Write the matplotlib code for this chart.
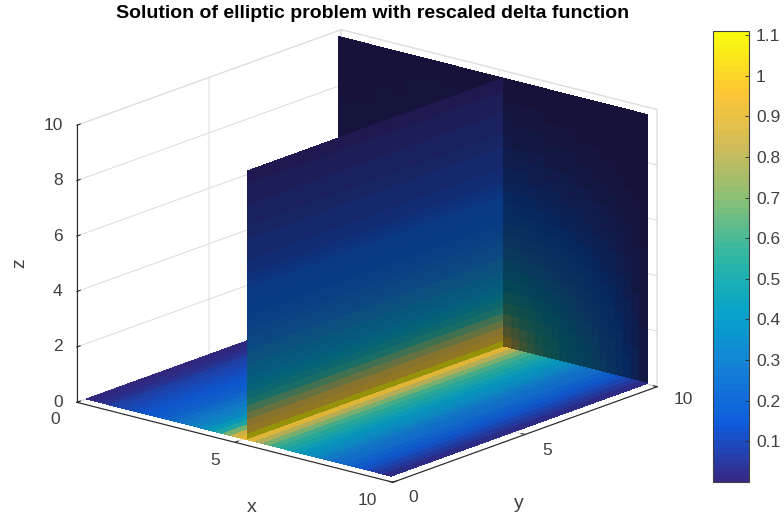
import numpy as np
import matplotlib
matplotlib.use('Agg')
import matplotlib.pyplot as plt
from matplotlib.colors import LinearSegmentedColormap, Normalize
from matplotlib.cm import ScalarMappable
from mpl_toolkits.mplot3d import proj3d

plt.rcParams['font.family'] = ['Liberation Sans', 'DejaVu Sans']

W, H = 784, 519

# parula anchors
parula_hex = ['#352a87', '#0f5cdd', '#1481d6', '#06a4ca', '#2eb7a4',
              '#87bf77', '#d1bb59', '#fec832', '#f9fb0e']
clim = (0.0, 1.11)
cbar_ticks = [0.1, 0.2, 0.3, 0.4, 0.5, 0.6, 0.7, 0.8, 0.9, 1.0, 1.1]
cbar_labels = ['0.1', '0.2', '0.3', '0.4', '0.5', '0.6', '0.7', '0.8', '0.9', '1', '1.1']
x_ticks = [0, 5, 10]
y_ticks = [0, 5, 10]
z_ticks = [0, 2, 4, 6, 8, 10]

# floor z=0, value per strip across x
floor_left = [.01, .03, .05, .07, .09, .11, .13, .15, .17, .19, .22, .25, .28, .32,
              .36, .42, .52, .68, .88, .94]
floor_right = [.93, .80, .68, .60, .54, .49, .45, .41, .37, .33, .29, .26, .23, .20,
               .17, .135, .10, .06, .02]

# slice x=5, value per strip up z
slice_z = [1.09, .93, .87, .76, .65, .55, .48, .43, .39, .36, .33, .30, .28, .25, .23,
           .21, .195, .18, .17, .16, .15, .14, .125, .115, .10, .09, .085, .08, .07,
           .06, .055, .05, .04, .035, .03, .025, .02, .015, .01]

# back slice y=10, right of x=5: rows go up z, columns go along x
back_right = [
    [.95, .80, .70, .63, .58, .53, .49, .45, .41, .38, .34, .30, .27, .23, .19, .15, .10, .05],
    [.78, .71, .65, .60, .55, .51, .47, .43, .40, .36, .33, .29, .26, .22, .18, .14, .09, .05],
    [.66, .62, .58, .55, .51, .47, .44, .41, .37, .34, .31, .27, .24, .21, .17, .13, .09, .04],
    [.58, .55, .52, .49, .46, .43, .40, .37, .34, .31, .28, .25, .22, .19, .16, .12, .08, .04],
    [.50, .48, .46, .44, .41, .39, .36, .34, .31, .29, .26, .23, .20, .17, .14, .11, .075, .035],
    [.43, .42, .40, .38, .36, .34, .32, .30, .28, .26, .23, .21, .18, .16, .13, .10, .07, .03],
    [.38, .37, .35, .34, .32, .30, .29, .27, .25, .23, .21, .19, .165, .14, .12, .09, .06, .03],
    [.33, .32, .31, .30, .28, .27, .25, .24, .22, .21, .19, .17, .15, .13, .105, .08, .055, .03],
    [.29, .28, .27, .26, .25, .24, .22, .21, .195, .18, .165, .15, .13, .115, .095, .075, .05, .025],
    [.25, .245, .235, .23, .22, .21, .195, .185, .175, .16, .145, .13, .115, .10, .085, .065, .045, .02],
    [.22, .215, .21, .20, .19, .18, .17, .16, .15, .14, .13, .115, .10, .09, .075, .06, .04, .02],
    [.19, .185, .18, .17, .165, .155, .15, .14, .13, .12, .11, .10, .09, .08, .065, .05, .035, .02],
    [.16, .155, .15, .145, .14, .135, .125, .12, .11, .10, .095, .085, .075, .065, .055, .045, .03, .015],
    [.14, .135, .13, .125, .12, .115, .11, .10, .095, .09, .08, .075, .065, .055, .05, .04, .025, .015],
    [.12, .115, .11, .105, .10, .095, .09, .085, .08, .075, .07, .06, .055, .05, .04, .03, .02, .01],
    [.10, .095, .09, .085, .08, .08, .075, .07, .065, .06, .055, .05, .045, .04, .03, .025, .02, .01],
    [.085, .08, .075, .07, .07, .065, .06, .055, .055, .05, .045, .04, .035, .03, .025, .02, .015, .01],
    [.07, .065, .06, .06, .055, .05, .05, .045, .04, .04, .035, .03, .03, .025, .02, .015, .01, .005],
    [.055, .05, .05, .045, .045, .04, .04, .035, .035, .03, .03, .025, .02, .02, .015, .01, .01, .005],
    [.045, .04, .04, .035, .035, .03, .03, .03, .025, .025, .02, .02, .015, .015, .01, .01, .005, .005],
    [.035, .03, .03, .03, .025, .025, .02, .02, .02, .015, .015, .015, .01, .01, .01, .005, .005, .003],
    [.025, .02, .02, .02, .02, .015, .015, .015, .01, .01, .01, .01, .005, .005, .005, .005, .003, .002],
    [.015, .015, .01, .01, .01, .01, .01, .005, .005, .005, .005, .005, .005, .003, .003, .002, .002, .001],
    [.008, .008, .006, .005, .005, .005, .004, .004, .003, .003, .003, .002, .002, .002, .002, .001, .001, .001],
]
# back slice, left of x=5 (only the upper part shows)
back_left = [
    [.03, .05, .07, .09, .10],
    [.02, .04, .05, .07, .08],
    [.02, .03, .04, .05, .06],
    [.01, .02, .03, .03, .04],
    [.01, .01, .02, .02, .02],
    [.005, .005, .01, .01, .01],
]

# edges of the strips
x_mid = 5.1
x_edges_left = np.linspace(0, x_mid, 21)
x_edges_right = np.linspace(x_mid, 9.65, 20)
z_edges = np.append(np.arange(0, 9.75, 0.25), 9.7)
y_lo, y_hi = 0.35, 10.05
back_x_right = np.linspace(x_mid, 9.65, 19)
back_z_right = np.linspace(0, 9.7, 25)
back_x_left = np.linspace(-0.13, x_mid, 6)
back_z_left = np.linspace(5.5, 9.7, 7)

cmap = LinearSegmentedColormap.from_list('parula', parula_hex, N=64)
norm = Normalize(*clim)


def colours(vals, shade):
    c = cmap(norm(np.array(vals)))
    c[..., :3] *= shade
    return c


def label3d(x, y, z, s, **kwargs):
    # plain 2D text at the projected spot
    px, py, _ = proj3d.proj_transform(x, y, z, ax.get_proj())
    ax.text2D(px, py, s, transform=ax.transData, **kwargs)


fig = plt.figure(figsize=(W / 100, H / 100), dpi=100)
L = 632
ax = fig.add_axes([42.5 / W, -61.5 / H, L / W, L / H], projection='3d', computed_zorder=False)
ax.set_proj_type('ortho')
ax.view_init(elev=17.6, azim=-50.1)
ax.set_box_aspect((1, 1, 0.706))
ax.set_xlim(0, 10, view_margin=0)
ax.set_ylim(0, 10, view_margin=0)
ax.set_zlim(0, 10, view_margin=0)

kw = dict(rstride=1, cstride=1, shade=False, linewidth=0, antialiased=False)

# back, left part
X, Z = np.meshgrid(back_x_left, back_z_left)
ax.plot_surface(X, np.full(X.shape, y_hi), Z, facecolors=colours(back_left, 0.42), zorder=1, **kw)
# floor, left part
X, Y = np.meshgrid(x_edges_left, [y_lo, y_hi])
ax.plot_surface(X, Y, np.zeros(X.shape), facecolors=colours([floor_left], 0.92), zorder=2, **kw)
# slice x=5
Y, Z = np.meshgrid([y_lo, y_hi], z_edges)
ax.plot_surface(np.full(Y.shape, x_mid), Y, Z, facecolors=colours([[v] for v in slice_z], 0.6), zorder=3, **kw)
# back, right part
X, Z = np.meshgrid(back_x_right, back_z_right)
ax.plot_surface(X, np.full(X.shape, y_hi), Z, facecolors=colours(back_right, 0.43), zorder=4, **kw)
# floor, right part
X, Y = np.meshgrid(x_edges_right, [y_lo, y_hi])
ax.plot_surface(X, Y, np.zeros(X.shape), facecolors=colours([floor_right], 0.92), zorder=5, **kw)

ax.set_xticks(x_ticks)
ax.set_yticks(y_ticks)
ax.set_zticks(z_ticks)
dark = '#262626'
grey = '#404040'
for axis in (ax.xaxis, ax.yaxis, ax.zaxis):
    axis.pane.set_facecolor('white')
    axis.pane.set_edgecolor('#d9d9d9')
    axis.line.set_color(dark)
    axis.line.set_linewidth(0.8)
    axis._axinfo['grid'].update(color='#dcdcdc', linewidth=0.7)
    axis._axinfo['tick'].update(inward_factor=0.0, outward_factor=0.15)
ax.zaxis.set_ticks_position('lower')
ax.tick_params(axis='both', colors=dark)
ax.set_xticklabels([])
ax.set_yticklabels([])
ax.set_zticklabels([])

# mplot3d resets label transforms when drawing, so the labels are placed just off the box
tk = dict(fontsize=12.5, color=grey, ha='center', va='center')
for v, dy, dz in zip(x_ticks, [-.83, -.76, -.98], [-.33, -.39, -.31]):
    label3d(v, dy, dz, str(v), **tk)
for v, dx, dz in zip(y_ticks, [10.63, 10.7, 10.82], [-.36, -.39, -.23]):
    label3d(dx, v, dz, str(v), **tk)
for v in z_ticks:
    label3d(-.27, -.22, v, str(v), fontsize=12.5, color=grey, ha='right', va='center')
lab = dict(fontsize=14, color=grey, ha='center', va='center')
label3d(6.79, -1.5, -1.31, 'x', **lab)
label3d(11.5, 2.98, -1.35, 'y', **lab)
label3d(-1, -.96, 5.06, 'z', rotation=90, **lab)

fig.text(373 / W, 1 - 14 / H, 'Solution of elliptic problem with rescaled delta function',
         ha='center', va='center', fontsize=14, fontweight='bold', color='black')

cax = fig.add_axes([713 / W, 1 - 482 / H, 36 / W, 451 / H])
cb = fig.colorbar(ScalarMappable(norm=norm, cmap=cmap), cax=cax, ticks=cbar_ticks)
cb.ax.set_yticklabels(cbar_labels)
cb.ax.tick_params(direction='in', length=3, width=0.6, labelsize=12.5, labelcolor=grey, color=dark, pad=5)
cb.outline.set_edgecolor(grey)
cb.outline.set_linewidth(0.8)

fig.savefig('out.png', dpi=100)
